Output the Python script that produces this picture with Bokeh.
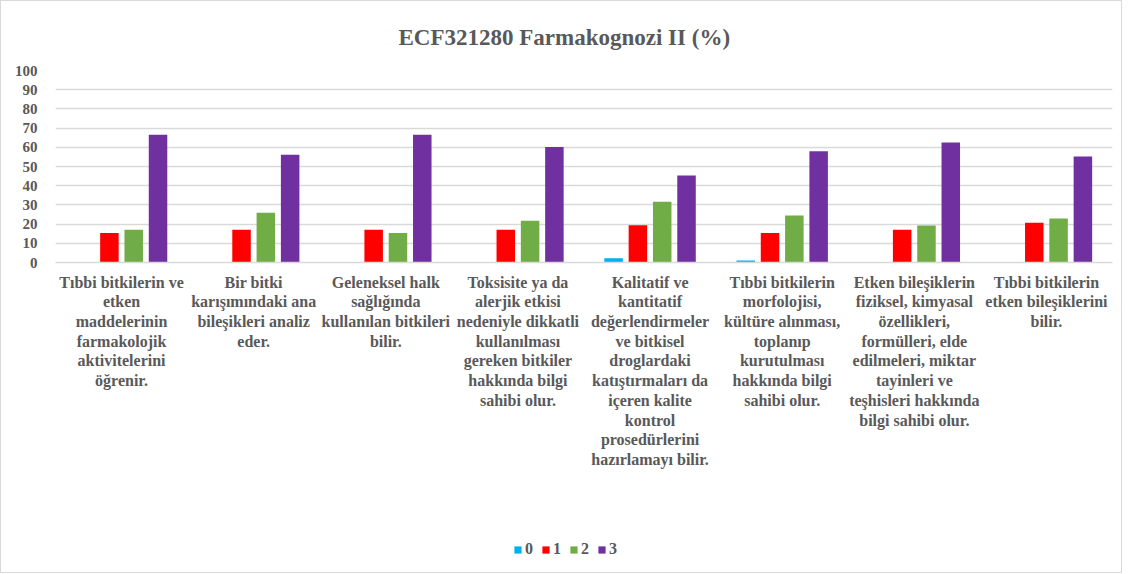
from bokeh.plotting import figure
from bokeh.layouts import column
from bokeh.models import (FactorRange, Range1d, FixedTicker, Legend, LegendItem,
                          ColumnDataSource)
from bokeh.transform import dodge
from bokeh.embed import file_html
from bokeh.resources import INLINE

categories = [
    "Tıbbi bitkilerin ve\netken\nmaddelerinin\nfarmakolojik\naktivitelerini\nöğrenir.",
    "Bir bitki\nkarışımındaki ana\nbileşikleri analiz\neder.",
    "Geleneksel halk\nsağlığında\nkullanılan bitkileri\nbilir.",
    "Toksisite ya da\nalerjik etkisi\nnedeniyle dikkatli\nkullanılması\ngereken bitkiler\nhakkında bilgi\nsahibi olur.",
    "Kalitatif ve\nkantitatif\ndeğerlendirmeler\nve bitkisel\ndroglardaki\nkatıştırmaları da\niçeren kalite\nkontrol\nprosedürlerini\nhazırlamayı bilir.",
    "Tıbbi bitkilerin\nmorfolojisi,\nkültüre alınması,\ntoplanıp\nkurutulması\nhakkında bilgi\nsahibi olur.",
    "Etken bileşiklerin\nfiziksel, kimyasal\nözellikleri,\nformülleri, elde\nedilmeleri, miktar\ntayinleri ve\nteşhisleri hakkında\nbilgi sahibi olur.",
    "Tıbbi bitkilerin\netken bileşiklerini\nbilir.",
]
series_names = ["0", "1", "2", "3"]
s0 = [0, 0, 0, 0, 2.2, 1.0, 0, 0]
s1 = [15.4, 17.0, 17.0, 17.0, 19.4, 15.4, 17.0, 20.7]
s2 = [17.0, 25.9, 15.4, 21.7, 31.6, 24.5, 19.3, 22.9]
s3 = [66.5, 56.1, 66.5, 60.2, 45.3, 58.0, 62.5, 55.2]
y_ticks = [0, 10, 20, 30, 40, 50, 60, 70, 80, 90, 100]
title_text = "ECF321280 Farmakognozi II  (%)"

colors = ["#00B0F0", "#FF0000", "#70AD47", "#7030A0"]
FONT = "Liberation Serif"
TXT = "#595959"
GRID = "#d9d9d9"

source = ColumnDataSource(dict(cat=categories, s0=s0, s1=s1, s2=s2, s3=s3))

BL, BR = 54, 9   # shared left/right borders (column aligns the frames)

p = figure(x_range=FactorRange(factors=categories), y_range=Range1d(0, 100),
           width=1120, height=530, output_backend="svg", toolbar_location=None,
           min_border_left=BL, min_border_right=BR, min_border_top=68,
           min_border_bottom=269)
p.outline_line_color = None
p.background_fill_color = "white"
p.border_fill_color = "white"

# title
p.title.text = title_text
p.title.align = "left"
p.title.offset = 343
p.title.standoff = 42
p.title.text_font = FONT
p.title.text_font_style = "bold"
p.title.text_font_size = "23px"
p.title.text_color = TXT

step = 0.184
bar_w = 0.14
offsets = [-1.5 * step, -0.5 * step, 0.5 * step, 1.5 * step]
for i, name in enumerate(series_names):
    p.vbar(x=dodge("cat", offsets[i], range=p.x_range), top="s%d" % i,
           width=bar_w, source=source, fill_color=colors[i], line_color=None)

# axes
p.xgrid.grid_line_color = None
p.ygrid.grid_line_color = GRID
p.ygrid.grid_line_width = 1.5
p.yaxis.ticker = FixedTicker(ticks=y_ticks)
p.yaxis.axis_line_color = None
p.yaxis.major_tick_line_color = None
p.yaxis.minor_tick_line_color = None
p.yaxis.major_tick_out = 0
p.yaxis.major_tick_in = 0
p.yaxis.major_label_standoff = 18
p.yaxis.major_label_text_font = FONT
p.yaxis.major_label_text_font_style = "bold"
p.yaxis.major_label_text_font_size = "15px"
p.yaxis.major_label_text_color = TXT

p.xaxis.axis_line_color = GRID
p.xaxis.axis_line_width = 1.5
p.xaxis.major_tick_line_color = None
p.xaxis.minor_tick_line_color = None
p.xaxis.major_tick_out = 0
p.xaxis.major_tick_in = 0
p.xaxis.major_label_standoff = 11
p.xaxis.major_label_orientation = "horizontal"
p.xaxis.major_label_text_align = "center"
p.xaxis.major_label_text_font = FONT
p.xaxis.major_label_text_font_style = "bold"
p.xaxis.major_label_text_font_size = "16px"
p.xaxis.major_label_text_line_height = 1.16
p.xaxis.major_label_text_color = TXT

# legend strip (same series colours), below the chart inside the same border
pl = figure(width=1120, height=41, output_backend="svg", toolbar_location=None,
            x_range=Range1d(0, 1), y_range=Range1d(0, 1),
            x_axis_location=None, y_axis_location=None,
            min_border=0, min_border_left=BL, min_border_right=BR,
            min_border_top=0, min_border_bottom=0)
pl.outline_line_color = None
pl.xgrid.visible = False
pl.ygrid.visible = False
legend_renderers = []
for i, name in enumerate(series_names):
    # zero-height proxy glyph; only its legend swatch is visible
    r = pl.vbar(x=[0.5], top=[0], width=0.01, fill_color=colors[i], line_color=None)
    legend_renderers.append(r)
legend = Legend(items=[LegendItem(label=n, renderers=[r]) for n, r in zip(series_names, legend_renderers)],
                orientation="horizontal", location=(458, 14),
                glyph_width=9, glyph_height=9, label_standoff=3, spacing=8,
                label_width=8, padding=0, margin=0, border_line_color=None,
                background_fill_alpha=0, label_text_font=FONT,
                label_text_font_style="bold", label_text_font_size="16px",
                label_text_color=TXT, label_height=16)
pl.add_layout(legend, "center")

layout = column(p, pl, spacing=0)
layout.styles = {"border": "1px solid #d9d9d9"}

open("out.html", "w").write(file_html(layout, INLINE))
